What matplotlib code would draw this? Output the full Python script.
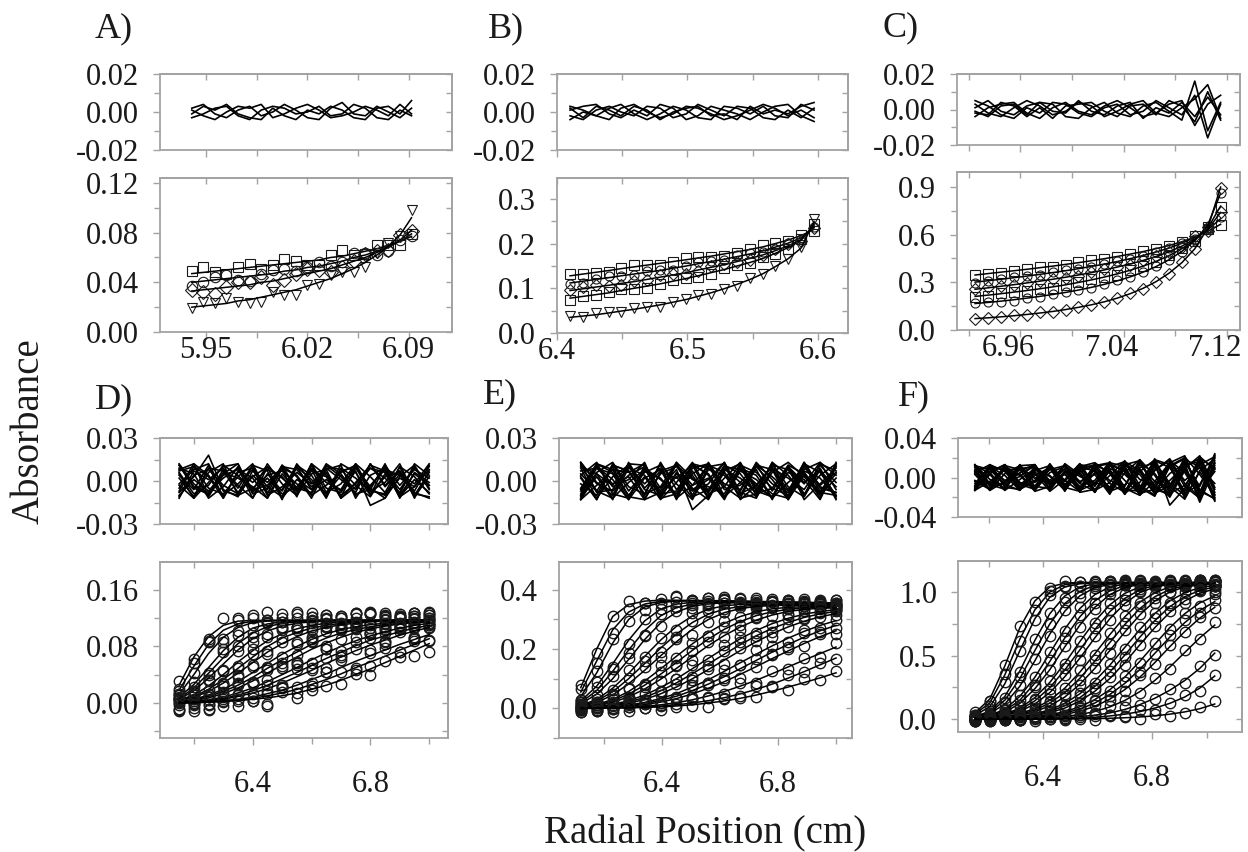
import matplotlib
matplotlib.use("Agg")
import matplotlib.pyplot as plt
import matplotlib.transforms as mtransforms
import numpy as np

plt.rcParams['font.family'] = ['Liberation Serif', 'DejaVu Serif']

# ---------------- data ----------------
# equilibrium panels A-C: fitted absorbance per scan, residuals in mAU (data = fit + residual)
x_A = [5.940, 5.948, 5.956, 5.964, 5.972, 5.980, 5.988, 5.996, 6.004, 6.012,
       6.020, 6.028, 6.036, 6.044, 6.052, 6.060, 6.068, 6.076, 6.084, 6.092]
fit_A = [
    [0.047, 0.048, 0.049, 0.050, 0.051, 0.052, 0.053, 0.054, 0.055, 0.056, 0.057, 0.058, 0.060, 0.061, 0.063, 0.065, 0.067, 0.070, 0.073, 0.077],
    [0.040, 0.041, 0.042, 0.043, 0.044, 0.045, 0.046, 0.047, 0.049, 0.050, 0.052, 0.053, 0.055, 0.057, 0.060, 0.062, 0.065, 0.069, 0.073, 0.079],
    [0.033, 0.034, 0.035, 0.036, 0.037, 0.038, 0.040, 0.041, 0.043, 0.045, 0.047, 0.049, 0.051, 0.054, 0.057, 0.060, 0.064, 0.068, 0.074, 0.082],
    [0.020, 0.021, 0.022, 0.023, 0.025, 0.026, 0.028, 0.030, 0.032, 0.034, 0.037, 0.040, 0.043, 0.047, 0.051, 0.056, 0.062, 0.069, 0.078, 0.092],
]
res_A = [
    [2, 4, -1, -3, 1, 3, -2, 0, 4, 1, -3, -4, 2, 5, -1, -2, 3, 0, -3, 2],
    [-3, -1, 2, 3, -2, -4, 1, 3, 2, -1, 0, 3, -2, -1, 4, 2, -3, -4, 1, -2],
    [1, -2, -4, 0, 3, 2, 4, -3, -1, 2, 4, 1, -3, -2, 0, 3, 1, -2, 4, -1],
    [-1, 3, 1, 4, -1, -3, -4, 2, -2, -4, 1, -1, 3, 1, -3, -4, 2, 3, -1, 6],
]

x_B = [6.410, 6.420, 6.430, 6.440, 6.449, 6.459, 6.469, 6.479, 6.489, 6.499,
       6.508, 6.518, 6.528, 6.538, 6.548, 6.558, 6.567, 6.577, 6.587, 6.597]
fit_B = [
    [0.128, 0.132, 0.136, 0.140, 0.144, 0.148, 0.152, 0.156, 0.160, 0.164, 0.168, 0.172, 0.177, 0.182, 0.187, 0.193, 0.200, 0.208, 0.218, 0.232],
    [0.112, 0.116, 0.120, 0.124, 0.128, 0.132, 0.136, 0.140, 0.145, 0.150, 0.155, 0.160, 0.165, 0.171, 0.177, 0.184, 0.192, 0.201, 0.213, 0.236],
    [0.095, 0.099, 0.103, 0.107, 0.111, 0.115, 0.120, 0.125, 0.130, 0.135, 0.141, 0.147, 0.153, 0.160, 0.167, 0.175, 0.184, 0.195, 0.209, 0.240],
    [0.078, 0.082, 0.086, 0.090, 0.095, 0.100, 0.105, 0.110, 0.116, 0.122, 0.128, 0.135, 0.142, 0.150, 0.158, 0.167, 0.178, 0.191, 0.207, 0.244],
    [0.035, 0.038, 0.041, 0.045, 0.049, 0.053, 0.058, 0.063, 0.069, 0.075, 0.082, 0.090, 0.099, 0.109, 0.120, 0.133, 0.148, 0.166, 0.190, 0.250],
]
res_B = [
    [3, 1, -2, -4, 2, 4, 0, -3, -1, 3, 2, -1, -4, -2, 1, 4, 2, -2, 1, -3],
    [-2, -4, 1, 3, 0, -2, 3, 2, -3, -1, 4, 1, -2, 3, 2, -3, -4, 1, -3, 2],
    [1, 3, 4, -1, -3, 1, -2, 4, 2, -4, -2, 3, 1, -1, -4, 0, 3, 4, -2, -5],
    [-4, 0, -2, 2, 4, -1, -4, -1, 3, 1, -3, -4, 3, 2, -1, 3, -2, -3, 4, 1],
    [2, -3, 3, 1, -2, 3, 1, -4, 0, 2, 3, -2, -1, -4, 3, -1, 1, -1, 3, 5],
]

x_C = [6.925, 6.935, 6.945, 6.955, 6.965, 6.975, 6.985, 6.995, 7.005, 7.015,
       7.025, 7.035, 7.045, 7.055, 7.065, 7.075, 7.085, 7.095, 7.105, 7.115]
fit_C = [
    [0.345, 0.354, 0.363, 0.372, 0.381, 0.391, 0.401, 0.412, 0.423, 0.435, 0.448, 0.462, 0.477, 0.493, 0.511, 0.531, 0.555, 0.584, 0.620, 0.665],
    [0.300, 0.309, 0.318, 0.328, 0.338, 0.349, 0.360, 0.372, 0.385, 0.399, 0.414, 0.430, 0.448, 0.468, 0.490, 0.515, 0.545, 0.582, 0.630, 0.700],
    [0.255, 0.264, 0.274, 0.284, 0.295, 0.306, 0.318, 0.331, 0.345, 0.360, 0.377, 0.395, 0.415, 0.437, 0.462, 0.491, 0.527, 0.572, 0.632, 0.740],
    [0.210, 0.218, 0.227, 0.237, 0.247, 0.258, 0.270, 0.283, 0.298, 0.314, 0.332, 0.352, 0.375, 0.401, 0.431, 0.467, 0.511, 0.566, 0.640, 0.780],
    [0.165, 0.172, 0.180, 0.189, 0.199, 0.210, 0.222, 0.235, 0.250, 0.267, 0.286, 0.308, 0.333, 0.363, 0.398, 0.441, 0.494, 0.561, 0.660, 0.860],
    [0.070, 0.075, 0.081, 0.088, 0.096, 0.105, 0.115, 0.127, 0.141, 0.157, 0.176, 0.199, 0.227, 0.261, 0.303, 0.356, 0.423, 0.510, 0.640, 0.900],
]
res_C = [
    [3, -2, -4, 1, 5, 2, -3, -1, 4, 2, -4, -1, 3, 5, -2, -4, 1, 6, 14, -5],
    [-4, 1, 3, 4, -2, -5, 1, 4, -1, -3, 2, 5, 1, -4, -2, 3, 5, -9, 3, 8],
    [1, 5, -1, -3, 2, 4, 3, -4, -5, 1, 4, -2, -4, 2, 4, -1, -6, 16, -12, 4],
    [-2, -3, 4, 2, -4, 1, -5, 2, 3, 4, -1, -4, 2, 3, -3, 5, 2, -7, 10, -6],
    [5, 2, -3, -5, 1, -2, 4, 3, -2, -4, 1, 3, -3, -1, 5, 1, -3, 8, -16, 3],
    [-1, -4, 2, 3, -3, 4, -1, -2, 5, -1, -3, 2, 4, -5, 1, -2, 4, -4, 7, -3],
]

# velocity panels D-F: one row per scan
x_D = [6.15, 6.20, 6.25, 6.30, 6.35, 6.40, 6.45, 6.50, 6.55,
       6.60, 6.65, 6.70, 6.75, 6.80, 6.85, 6.90, 6.95, 7.00]
fit_D = [
    [.025, .065, .094, .110, .116, .117, .117, .117, .117, .117, .117, .117, .117, .117, .117, .117, .117, .117],
    [.018, .052, .083, .103, .112, .116, .117, .117, .117, .117, .117, .117, .117, .117, .117, .117, .117, .117],
    [.012, .040, .070, .093, .107, .114, .116, .117, .117, .117, .117, .117, .117, .117, .117, .117, .117, .117],
    [.008, .026, .050, .074, .093, .106, .112, .115, .116, .117, .117, .117, .117, .117, .117, .117, .117, .117],
    [.006, .021, .042, .064, .084, .099, .108, .113, .115, .116, .117, .117, .117, .117, .117, .117, .117, .117],
    [.005, .017, .035, .055, .075, .091, .102, .109, .113, .115, .116, .117, .117, .117, .117, .117, .117, .117],
    [.004, .011, .024, .040, .058, .074, .088, .098, .105, .110, .113, .115, .116, .116, .117, .117, .117, .117],
    [.003, .009, .019, .033, .049, .065, .080, .092, .100, .106, .110, .113, .115, .116, .116, .117, .117, .117],
    [.003, .008, .016, .028, .042, .057, .072, .084, .094, .102, .107, .111, .113, .115, .116, .116, .117, .117],
    [.002, .005, .011, .019, .030, .043, .056, .069, .080, .090, .098, .104, .108, .111, .113, .115, .116, .116],
    [.001, .004, .009, .016, .025, .036, .049, .061, .072, .083, .092, .099, .104, .108, .111, .113, .115, .116],
    [.001, .003, .007, .013, .021, .031, .042, .054, .065, .076, .085, .093, .100, .105, .109, .112, .114, .115],
    [.001, .002, .004, .008, .014, .021, .030, .040, .050, .061, .071, .080, .088, .095, .101, .106, .110, .113],
    [.000, .001, .003, .006, .011, .017, .025, .034, .043, .053, .063, .072, .081, .089, .095, .101, .106, .110],
    [.000, .001, .003, .005, .009, .014, .020, .028, .037, .046, .056, .065, .074, .082, .089, .096, .102, .107],
    [.000, .001, .002, .003, .005, .008, .013, .018, .025, .033, .041, .050, .059, .067, .075, .083, .090, .097],
    [.000, .000, .001, .002, .004, .006, .010, .014, .019, .026, .033, .041, .050, .058, .066, .075, .083, .091],
    [.000, .000, .001, .002, .003, .005, .007, .010, .014, .019, .025, .032, .040, .048, .057, .066, .075, .084],
]
res_D = [
    [6, -9, -3, 11, 4, -7, 12, -2, -10, 5, 8, -12, -4, 9, 2, -8, 10, -5],
    [-7, 10, 3, -12, 6, 9, -4, -11, 12, -1, -8, 7, 10, -5, -12, 3, 11, -6],
    [-8, 3, 18, -6, -11, 7, -1, 9, 4, -10, -3, 6, 11, -7, -9, 5, -2, 12],
    [11, -4, -8, 2, 9, -12, 5, -7, 10, 1, -9, 4, -6, 12, -3, 7, -11, 3],
    [11, -5, -9, 8, -3, -12, 10, 2, -7, 12, 4, -10, -2, 9, 6, -11, -4, 8],
    [-5, 12, 4, -10, -2, 8, -9, 11, -6, 7, 3, -11, 9, -4, 10, -12, 6, -1],
    [2, -11, 9, 7, -8, 3, 10, -12, 1, -6, 12, 5, -10, -3, 8, 4, -7, 11],
    [-2, 8, 12, -7, -10, 4, -6, 11, 3, -12, 9, 1, -8, 12, -4, 7, -9, -11],
    [9, 5, -12, -4, 10, -6, -3, 8, -11, 12, -5, -8, 7, -17, -12, 10, 3, -9],
    [-12, 7, 1, 9, -5, 11, -10, -4, 6, -2, 10, 8, -3, -11, 5, -9, 12, 4],
    [5, -12, -1, 10, 12, -8, 2, -9, -4, 8, -11, 12, 6, -10, 11, -3, 8, 2],
    [4, -6, 11, -12, 7, -1, 8, 3, -9, 11, -8, -2, 12, -6, -10, 2, -4, 10],
    [-10, 1, -7, 5, 12, -9, -5, 10, 8, -4, 6, -12, -1, 11, 7, -6, 9, -3],
    [-11, 4, 8, -3, -9, 11, 7, -13, 10, -6, 1, -7, 12, 3, -8, 10, -12, 7],
    [7, 10, -5, -9, 3, 12, -8, -6, 11, 4, -12, 9, 2, -7, -1, 12, -10, 6],
    [-3, -12, 6, 12, -10, -5, 4, 7, -2, -9, 8, 11, -12, 4, 9, -11, 1, -8],
    [8, 12, -11, 6, 2, -4, -12, 9, -5, -8, 11, 3, -9, -6, 12, -10, 5, -3],
    [12, -2, -10, 4, 8, 2, -12, 5, -7, 9, -1, -6, 10, -9, 3, 6, -8, -12],
]

x_E = [6.120, 6.175, 6.230, 6.285, 6.340, 6.395, 6.450, 6.505, 6.560,
       6.615, 6.670, 6.725, 6.780, 6.835, 6.890, 6.945, 7.000]
fit_E = [
    [.070, .200, .310, .350, .362, .365, .365, .364, .364, .363, .362, .361, .360, .359, .358, .357, .356],
    [.055, .160, .265, .325, .352, .361, .363, .363, .363, .362, .361, .360, .359, .358, .357, .356, .355],
    [.040, .120, .220, .300, .342, .357, .362, .363, .363, .362, .361, .360, .359, .358, .357, .356, .355],
    [.025, .075, .150, .230, .295, .335, .352, .358, .360, .360, .359, .358, .357, .356, .355, .354, .353],
    [.020, .060, .125, .197, .262, .312, .340, .352, .357, .358, .358, .357, .356, .355, .354, .353, .352],
    [.015, .048, .100, .165, .232, .288, .325, .345, .353, .356, .356, .356, .355, .354, .353, .352, .351],
    [.010, .030, .068, .118, .175, .230, .277, .312, .335, .346, .351, .352, .352, .351, .350, .349, .348],
    [.008, .025, .056, .100, .151, .203, .251, .290, .318, .335, .344, .348, .350, .350, .349, .348, .347],
    [.006, .020, .045, .083, .128, .177, .225, .267, .300, .323, .337, .344, .347, .348, .347, .346, .345],
    [.004, .013, .030, .057, .092, .133, .176, .218, .256, .287, .310, .326, .336, .341, .343, .343, .342],
    [.003, .010, .025, .048, .078, .115, .155, .196, .234, .267, .293, .313, .326, .334, .339, .341, .341],
    [.003, .008, .020, .039, .065, .098, .135, .174, .212, .246, .275, .298, .315, .327, .334, .338, .339],
    [.002, .005, .013, .026, .045, .070, .100, .134, .169, .203, .235, .263, .286, .304, .318, .327, .333],
    [.001, .004, .010, .021, .037, .059, .086, .117, .150, .183, .215, .245, .270, .290, .307, .319, .327],
    [.001, .003, .008, .017, .030, .049, .072, .100, .131, .163, .195, .225, .252, .275, .294, .309, .320],
    [.001, .002, .005, .011, .020, .033, .050, .072, .097, .125, .154, .183, .211, .237, .260, .280, .296],
    [.000, .001, .004, .009, .016, .027, .041, .060, .082, .107, .134, .162, .190, .216, .240, .262, .280],
    [.000, .001, .003, .007, .013, .021, .033, .049, .068, .090, .115, .141, .168, .194, .219, .242, .262],
    [.000, .001, .002, .004, .007, .012, .019, .029, .042, .057, .075, .095, .117, .140, .163, .185, .207],
    [.000, .000, .001, .003, .005, .008, .012, .018, .026, .036, .049, .064, .082, .102, .124, .147, .170],
    [.000, .000, .001, .002, .003, .005, .008, .012, .018, .025, .034, .045, .058, .072, .087, .103, .120],
]
res_E = [
    [9, -12, 3, 11, -6, -10, 13, 2, -8, 7, 12, -4, -11, 6, 1, -13, 10],
    [11, -7, -12, 9, 4, -10, 12, -6, 1, 13, -9, -3, 10, -12, 7, 2, -11],
    [-11, 6, 13, -4, -9, 12, -2, -13, 8, 4, -10, 11, 3, -7, 13, -5, -8],
    [4, 13, -9, -12, 7, 2, -11, 9, 12, -6, -3, 8, -13, 10, -9, 4, 12],
    [-5, 12, 8, -11, -13, 6, 2, 11, -9, -4, 12, -7, -11, 9, -2, 13, 4],
    [-13, -3, 8, 6, 12, -11, 5, -7, -2, 13, -8, -12, 9, 2, -6, 11, -1],
    [12, -8, -6, 10, -2, 9, -13, 11, 5, -11, 7, 1, -9, -12, 10, -3, 6],
    [13, -2, -7, 4, 10, -12, -9, 5, 12, -11, -1, 11, 8, -13, 6, -8, -10],
    [-6, 10, 1, -13, 11, -5, 8, -20, -10, 2, 13, -6, 12, -4, -11, 8, -13],
    [2, -13, 11, 7, -10, 13, -6, 4, -12, 9, -1, -11, 6, 13, 3, -9, 11],
    [-10, 9, 5, -13, 2, 8, -12, -3, 11, 6, -12, -9, 13, 4, -10, 12, 7],
    [10, 5, -12, -1, 8, -7, 12, -10, 13, -4, -12, 10, -2, -8, 12, 6, -10],
    [-9, 12, 6, -10, 3, -13, -1, 13, -7, 11, 5, -9, -5, 11, -13, -2, 9],
    [3, -13, 11, 7, -9, -4, 13, -11, -6, 10, 8, -2, -12, 11, 5, -9, 12],
    [13, -1, -10, 12, -12, 5, 10, -3, 2, -13, 9, 4, -12, -1, 8, 13, -6],
    [-2, -10, 12, -7, 6, 11, -12, 7, -11, 6, -7, 13, 1, -13, 4, -10, 2],
    [-13, 5, -3, 12, 11, -9, -7, 12, 4, -12, 11, 6, -5, -10, 13, -4, -8],
    [7, 9, -2, 3, -13, -8, 3, -12, 10, 12, -13, -3, 11, 8, -10, 9, -12],
    [-12, 3, -13, 13, -5, 7, 11, 1, -4, -9, 10, -10, 8, -6, 6, -12, 13],
    [5, -7, 10, -11, 9, 1, -9, 12, 9, -2, -6, 12, -7, 10, -1, 7, -4],
    [-7, 11, -4, 1, 13, -12, 6, -5, -13, 8, 2, -8, 13, -11, 11, -7, 5],
]

x_F = [6.150, 6.205, 6.260, 6.315, 6.370, 6.425, 6.480, 6.535, 6.590,
       6.645, 6.700, 6.755, 6.810, 6.865, 6.920, 6.975, 7.030]
fit_F = [
    [.050, .160, .420, .720, .930, 1.040, 1.070, 1.075, 1.075, 1.075, 1.075, 1.075, 1.075, 1.075, 1.075, 1.075, 1.075],
    [.040, .130, .350, .630, .860, 1.000, 1.058, 1.072, 1.075, 1.075, 1.075, 1.075, 1.075, 1.075, 1.075, 1.075, 1.075],
    [.030, .100, .280, .540, .790, .960, 1.040, 1.065, 1.072, 1.074, 1.074, 1.074, 1.074, 1.074, 1.074, 1.074, 1.074],
    [.020, .065, .180, .380, .620, .830, .970, 1.040, 1.065, 1.072, 1.073, 1.073, 1.073, 1.073, 1.073, 1.073, 1.073],
    [.017, .055, .150, .320, .540, .750, .910, 1.005, 1.052, 1.068, 1.072, 1.072, 1.072, 1.072, 1.072, 1.072, 1.072],
    [.015, .045, .120, .260, .460, .670, .850, .970, 1.035, 1.060, 1.070, 1.072, 1.072, 1.072, 1.072, 1.072, 1.072],
    [.010, .030, .080, .180, .330, .520, .710, .870, .980, 1.040, 1.062, 1.070, 1.071, 1.071, 1.071, 1.071, 1.071],
    [.009, .026, .067, .150, .285, .455, .640, .805, .930, 1.010, 1.050, 1.066, 1.070, 1.070, 1.070, 1.070, 1.070],
    [.008, .022, .055, .125, .240, .390, .570, .740, .880, .980, 1.035, 1.060, 1.068, 1.070, 1.070, 1.070, 1.070],
    [.006, .016, .040, .088, .170, .290, .440, .610, .770, .900, .990, 1.040, 1.062, 1.068, 1.069, 1.069, 1.069],
    [.005, .014, .034, .075, .145, .250, .388, .545, .705, .845, .950, 1.018, 1.052, 1.064, 1.068, 1.068, 1.068],
    [.004, .012, .028, .062, .120, .210, .335, .480, .640, .790, .910, .995, 1.040, 1.060, 1.066, 1.068, 1.068],
    [.003, .008, .020, .044, .085, .150, .245, .370, .515, .665, .805, .920, .995, 1.040, 1.058, 1.064, 1.066],
    [.002, .007, .017, .037, .072, .128, .210, .322, .458, .603, .745, .870, .963, 1.020, 1.049, 1.060, 1.064],
    [.002, .006, .014, .031, .060, .106, .175, .275, .400, .540, .685, .820, .930, 1.000, 1.040, 1.056, 1.062],
    [.002, .004, .010, .022, .042, .075, .125, .200, .300, .425, .565, .705, .830, .930, .995, 1.035, 1.052],
    [.001, .003, .008, .018, .035, .063, .106, .170, .258, .370, .505, .645, .775, .885, .963, 1.013, 1.040],
    [.001, .003, .007, .015, .029, .052, .088, .143, .220, .320, .445, .585, .720, .840, .930, .990, 1.025],
    [.001, .002, .005, .010, .020, .036, .060, .098, .155, .232, .332, .455, .590, .720, .830, .915, .970],
    [.000, .001, .004, .008, .016, .029, .049, .080, .128, .195, .282, .392, .518, .645, .760, .855, .925],
    [.000, .001, .003, .006, .012, .022, .038, .063, .102, .158, .233, .330, .445, .570, .690, .795, .880],
    [.000, .001, .002, .004, .007, .013, .022, .037, .061, .097, .148, .217, .305, .410, .525, .640, .740],
    [.000, .000, .001, .002, .004, .007, .012, .020, .032, .050, .077, .115, .165, .228, .305, .400, .520],
    [.000, .000, .000, .001, .002, .004, .006, .010, .016, .026, .040, .060, .088, .125, .175, .245, .340],
    [.000, .000, .000, .000, .001, .001, .002, .003, .005, .008, .012, .018, .027, .040, .058, .083, .120],
]
res_F = [
    [10, -13, 4, 12, -9, -11, 14, 3, -15, 11, 16, -8, -18, 12, 20, -14, -21],
    [-9, 13, 6, -12, -4, 12, -11, 9, 13, -14, -8, 15, 4, -18, 13, 16, -20],
    [-12, 6, 13, -5, -10, 13, -3, -14, 9, -16, 5, 18, -12, -17, 9, 22, -10],
    [5, 13, -10, -12, 8, 2, -13, 11, 15, 4, -17, 10, 15, -9, -22, 7, 19],
    [13, -7, -12, 9, 11, -3, 12, -13, -6, 15, 11, -16, -12, 16, -9, -21, 15],
    [-13, -4, 9, 7, 13, -12, 6, -9, -3, 16, -11, -18, 7, 19, -6, -20, 14],
    [12, -9, -6, 11, -1, 10, -14, 13, 6, -14, 12, 3, -16, -8, 18, 11, -23],
    [-4, -12, 11, 2, -13, 9, -4, 14, -13, -5, 16, 7, -17, 11, 19, -12, -22],
    [-6, 11, 2, -13, 12, -6, 9, -15, -12, 2, 17, -13, 14, -28, -11, 21, 8],
    [3, -13, 12, 8, -11, 14, -7, 5, -15, 13, -3, -16, 8, 17, 5, -19, 22],
    [12, 8, -7, -13, 6, -11, 13, -6, 11, 14, -12, -14, 16, -6, -18, 20, 9],
    [11, 5, -13, -2, 9, -8, 13, -12, 14, -6, -15, 13, -4, -11, 21, 3, -18],
    [-10, 12, 7, -11, 4, -14, -2, 14, -8, 12, 8, -10, -19, 14, -16, -7, 20],
    [-12, 4, 13, -6, -9, 13, -10, -14, 5, -10, 13, 17, -9, -19, 10, -16, 24],
    [13, -2, -11, 13, -13, 5, 11, -4, 3, -17, 13, 6, -15, -3, 12, 19, -15],
    [-3, -11, 13, -8, 7, 12, -13, 8, -13, 7, -9, 18, 2, -20, 7, -14, 6],
    [7, -13, -4, 12, 13, -7, 5, 10, -15, 8, -17, 6, 18, 13, -21, 6, -17],
    [8, 10, -3, 4, -14, -9, 4, -14, 12, 15, -16, -5, 17, 10, -14, 15, -24],
    [-13, 3, -13, 13, -5, 8, 12, 1, -5, -11, 11, -14, 11, -9, 9, -22, 17],
    [-13, 10, 9, -11, 2, 10, -13, 6, 12, -14, 9, -18, -4, 15, 22, -19, 12],
    [6, -8, 11, -12, 10, 1, -10, 13, 10, -3, -8, 16, -10, 15, -3, 10, -6],
    [-8, 12, -5, 1, 13, -13, 7, -6, -14, 9, 3, -11, 19, -14, 16, -9, 23],
    [12, -6, 8, -10, -3, 11, -12, 10, 7, -13, 16, -2, -7, 12, -19, 18, -12],
    [-11, 9, -8, 5, 11, -4, 3, -11, 13, 5, -14, 9, -13, 4, 14, -25, 10],
    [4, -12, 10, -7, -12, 13, -8, 12, -9, 14, 6, -17, 12, -16, -8, 13, 21],
]

# ---------------- axes setup ----------------
W, H = 1248, 852
GREY = '#a3a3a3'
INK = '#1a1a1a'

fig = plt.figure(figsize=(W / 100, H / 100), dpi=100)


def rect(x0, y0, x1, y1):
    return [x0 / W, 1 - y1 / H, (x1 - x0) / W, (y1 - y0) / H]


def dress(ax, xt, xm, xl, yt, ym, yl, xpad):
    ax.set_xticks(xt)
    ax.set_xticks(xm, minor=True)
    ax.set_yticks(yt)
    ax.set_yticks(ym, minor=True)
    ax.set_xticklabels(xl)
    ax.set_yticklabels(yl)
    ax.tick_params(which='both', direction='out', color=GREY, width=1.0,
                   labelsize=22, labelcolor=INK)
    ax.tick_params(axis='y', which='both', pad=10)
    ax.tick_params(axis='x', which='both', pad=xpad)
    ax.tick_params(which='major', length=5)
    ax.tick_params(which='minor', length=4)
    for s in ax.spines.values():
        s.set_color(GREY)
        s.set_linewidth(1.3)
    # inward ticks on top and right
    top = ax.secondary_xaxis('top')
    top.set_xticks(xt)
    top.set_xticks(xm, minor=True)
    top.tick_params(which='both', direction='in', color=GREY, width=1.0,
                    labeltop=False, length=4)
    right = ax.secondary_yaxis('right')
    right.set_yticks(yt)
    right.set_yticks(ym, minor=True)
    right.tick_params(which='both', direction='in', color=GREY, width=1.0,
                      labelright=False, length=4)
    for s in list(top.spines.values()) + list(right.spines.values()):
        s.set_color(GREY)
        s.set_linewidth(1.3)


panels = [
    dict(x=x_A, fit=fit_A, res=res_A, mk=['s', 'o', 'D', 'v'], ms=7.5, mew=0.8,
         rbox=(160, 74, 452, 150), mbox=(160, 178, 452, 332),
         xlim=(5.918, 6.12), ylim=(0, 0.124), rlim=(-0.02, 0.02),
         xt=[5.95, 6.02, 6.09], xm=[5.985, 6.055], xl=['5.95', '6.02', '6.09'],
         yt=[0, 0.04, 0.08, 0.12], ym=[0.02, 0.06, 0.10], yl=['0.00', '0.04', '0.08', '0.12'],
         rt=[-0.02, 0, 0.02], rm=[-0.01, 0.01], rl=['-0.02', '0.00', '0.02'], xpad=-2, xshift=0),
    dict(x=x_B, fit=fit_B, res=res_B, mk=['s', 'o', 'D', 's', 'v'], ms=6.5, mew=0.8,
         rbox=(557, 74, 848, 150), mbox=(557, 178, 848, 333),
         xlim=(6.4, 6.623), ylim=(0, 0.347), rlim=(-0.02, 0.02),
         xt=[6.4, 6.5, 6.6], xm=[6.45, 6.55], xl=['6.4', '6.5', '6.6'],
         yt=[0, 0.1, 0.2, 0.3], ym=[0.05, 0.15, 0.25], yl=['0.0', '0.1', '0.2', '0.3'],
         rt=[-0.02, 0, 0.02], rm=[-0.01, 0.01], rl=['-0.02', '0.00', '0.02'], xpad=-2, xshift=0),
    dict(x=x_C, fit=fit_C, res=res_C, mk=['s', 'o', 'D', 's', 'o', 'D'], ms=6.5, mew=0.8,
         rbox=(957, 74, 1240, 145), mbox=(957, 172, 1240, 330),
         xlim=(6.911, 7.13), ylim=(-0.002, 0.995), rlim=(-0.02, 0.02),
         xt=[6.96, 7.04, 7.12], xm=[6.92, 7.00, 7.08], xl=['6.96', '7.04', '7.12'],
         yt=[0, 0.3, 0.6, 0.9], ym=[0.15, 0.45, 0.75], yl=['0.0', '0.3', '0.6', '0.9'],
         rt=[-0.02, 0, 0.02], rm=[-0.01, 0.01], rl=['-0.02', '0.00', '0.02'], xpad=-2, xshift=-12),
    dict(x=x_D, fit=fit_D, res=res_D, mk=['o'], ms=7.5, mew=1.0,
         rbox=(160, 438, 448, 524), mbox=(160, 562, 448, 738),
         xlim=(6.085, 7.064), ylim=(-0.05, 0.2), rlim=(-0.03, 0.03),
         xt=[6.4, 6.8], xm=[6.2, 6.6, 7.0], xl=['6.4', '6.8'],
         yt=[0, 0.08, 0.16], ym=[-0.04, 0.04, 0.12], yl=['0.00', '0.08', '0.16'],
         rt=[-0.03, 0, 0.03], rm=[-0.015, 0.015], rl=['-0.03', '0.00', '0.03'], xpad=18, xshift=0),
    dict(x=x_E, fit=fit_E, res=res_E, mk=['o'], ms=7.5, mew=1.0,
         rbox=(559, 438, 852, 524), mbox=(559, 562, 852, 738),
         xlim=(6.045, 7.055), ylim=(-0.1, 0.494), rlim=(-0.03, 0.03),
         xt=[6.4, 6.8], xm=[6.2, 6.6, 7.0], xl=['6.4', '6.8'],
         yt=[0, 0.2, 0.4], ym=[-0.1, 0.1, 0.3], yl=['0.0', '0.2', '0.4'],
         rt=[-0.03, 0, 0.03], rm=[-0.015, 0.015], rl=['-0.03', '0.00', '0.03'], xpad=18, xshift=0),
    dict(x=x_F, fit=fit_F, res=res_F, mk=['o'], ms=7.5, mew=1.0,
         rbox=(958, 438, 1242, 517), mbox=(958, 561, 1242, 732),
         xlim=(6.088, 7.13), ylim=(-0.1, 1.244), rlim=(-0.04, 0.04),
         xt=[6.4, 6.8], xm=[6.2, 6.6, 7.0], xl=['6.4', '6.8'],
         yt=[0, 0.5, 1.0], ym=[0.25, 0.75], yl=['0.0', '0.5', '1.0'],
         rt=[-0.04, 0, 0.04], rm=[-0.02, 0.02], rl=['-0.04', '0.00', '0.04'], xpad=18, xshift=0),
]

for p in panels:
    x = np.array(p['x'])
    axr = fig.add_axes(rect(*p['rbox']))
    axm = fig.add_axes(rect(*p['mbox']))

    for i, (fit, res) in enumerate(zip(p['fit'], p['res'])):
        fit = np.array(fit)
        res = np.array(res) * 0.001
        mk = p['mk'][i % len(p['mk'])]
        axm.plot(x, fit + res, ls='none', marker=mk, ms=p['ms'], mfc='none',
                 mec=INK, mew=p['mew'], clip_on=False)
        axm.plot(x, fit, color='k', lw=1.1)
        axr.plot(x, res, color='k', lw=1.2)

    axr.set_xlim(*p['xlim'])
    axr.set_ylim(*p['rlim'])
    axm.set_xlim(*p['xlim'])
    axm.set_ylim(*p['ylim'])
    dress(axr, p['xt'], p['xm'], [], p['rt'], p['rm'], p['rl'], 2)
    dress(axm, p['xt'], p['xm'], p['xl'], p['yt'], p['ym'], p['yl'], p['xpad'])
    if p['xshift']:
        off = mtransforms.ScaledTranslation(p['xshift'] / 100, 0, fig.dpi_scale_trans)
        for lab in axm.get_xticklabels():
            lab.set_transform(lab.get_transform() + off)

# panel letters
letters = ['A)', 'B)', 'C)', 'D)', 'E)', 'F)']
letter_pos = [(95, 29), (488, 29), (883, 28), (95, 400), (483, 395), (898, 397)]
for t, (px, py) in zip(letters, letter_pos):
    fig.text(px / W, 1 - py / H, t, fontsize=26, ha='left', va='center', color=INK)

fig.text(29 / W, 1 - 431 / H, 'Absorbance', rotation=90, fontsize=28,
         ha='center', va='center', color=INK)
fig.text(705 / W, 1 - 834 / H, 'Radial Position (cm)', fontsize=28,
         ha='center', va='center', color=INK)

fig.savefig('out.png', dpi=100)
